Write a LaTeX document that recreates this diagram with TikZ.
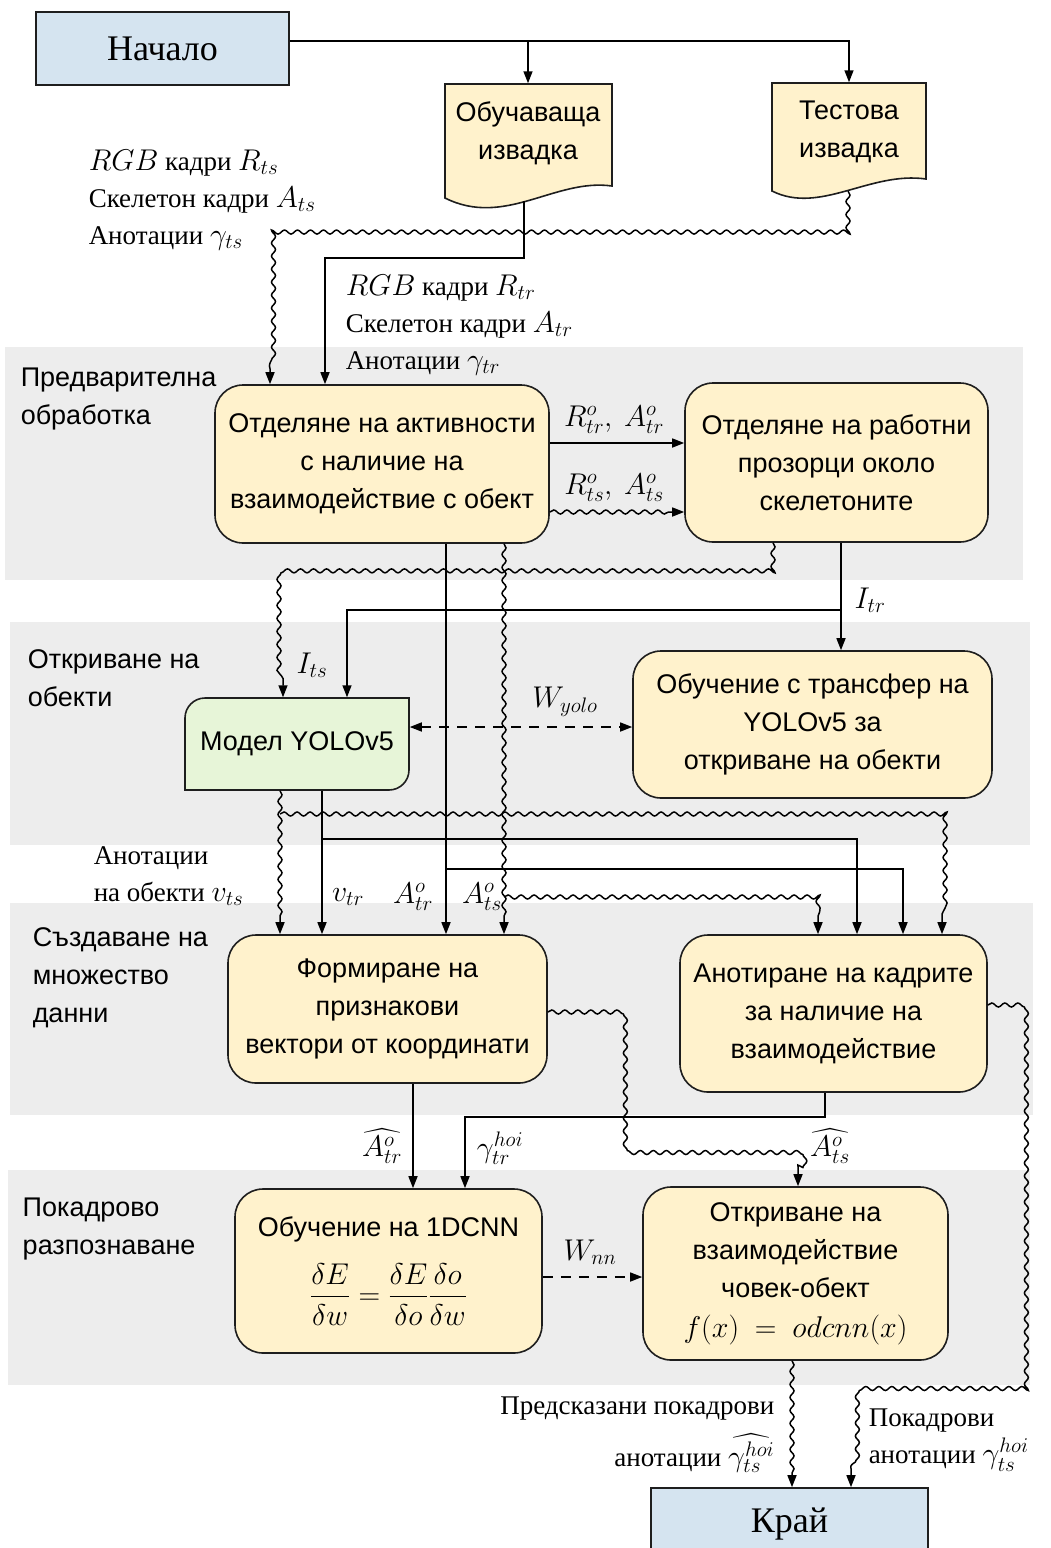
\RequirePackage{fix-cm}
\documentclass[tikz,border=0pt]{standalone}
\usepackage{amsmath}
\usepackage{fontspec}
\setmainfont{Liberation Serif}
\newfontfamily\boxfont{Liberation Sans}
\DeclareMathSizes{27}{30}{21}{16}
\usepackage{tikz}
\usetikzlibrary{arrows.meta,positioning,calc,decorations.pathmorphing}

\definecolor{procfill}{RGB}{255,242,204}
\definecolor{termfill}{RGB}{213,228,240}
\definecolor{modelfill}{RGB}{231,245,216}
\definecolor{bandfill}{RGB}{237,237,237}
\definecolor{edge}{RGB}{30,30,30}

\tikzstyle{band}=[fill=bandfill,draw=none]
\tikzstyle{proc}=[draw=edge,line width=1.6pt,fill=procfill,rounded corners=28pt,align=center,inner sep=0pt,font=\boxfont\fontsize{27}{38}\selectfont]
\tikzstyle{term}=[draw=edge,line width=1.6pt,fill=termfill,font=\fontsize{36}{40}\selectfont]
\tikzstyle{docshape}=[draw=edge,line width=1.6pt,fill=procfill]
\tikzstyle{boxtext}=[align=center,inner sep=0pt,font=\boxfont\fontsize{27}{38}\selectfont]
\tikzstyle{lbl}=[inner sep=0pt,font=\fontsize{27}{37}\selectfont]
\tikzstyle{stage}=[anchor=west,align=left,inner sep=0pt,font=\boxfont\fontsize{27}{38}\selectfont]
\tikzstyle{flow}=[-{Triangle[length=12pt,width=9pt]}]
\tikzstyle{wavy}=[flow,decorate,decoration={snake,segment length=13pt,amplitude=2pt,post length=14pt}]
\tikzstyle{dashone}=[flow,dash pattern=on 10pt off 8pt]
\tikzstyle{dashboth}=[{Triangle[length=12pt,width=9pt]}-{Triangle[length=12pt,width=9pt]},dash pattern=on 10pt off 8pt]

\begin{document}
\begin{tikzpicture}[x=1pt,y=-1pt,line width=1.5pt]
    \useasboundingbox (0,0) rectangle (1051,1548);
    \fill[band] (5,347) rectangle (1023,580);
    \fill[band] (10,622) rectangle (1030,845);
    \fill[band] (10,903) rectangle (1033,1115);
    \fill[band] (8,1170) rectangle (1030,1385);

    \node[stage] (stprep) at (20,399) {Предварителна\\обработка};
    \node[stage] (stdet) at (27,678) {Откриване на\\обекти};
    \node[stage] (stdata) at (32,978) {Създаване на\\множество\\данни};
    \node[stage] (strec) at (22,1229) {Покадрово\\разпознаване};

    \node[term,minimum width=253pt,minimum height=73pt] (start) at (162.5,48.5) {Начало};

    \draw[docshape] (445,198) -- (445,84) -- (612,84) -- (612,186)
      .. controls (555,178) and (505,228) .. (445,198) -- cycle;
    \node[boxtext,minimum width=167pt,minimum height=98pt] (train) at (528,133) {Обучаваща\\извадка};
    \coordinate (trainbot) at (524,201);

    \draw[docshape] (772,191) -- (772,83) -- (926,83) -- (926,179)
      .. controls (870,171) and (820,215) .. (772,191) -- cycle;
    \node[boxtext,minimum width=154pt,minimum height=98pt] (test) at (849,132) {Тестова\\извадка};
    \coordinate (testbot) at (848,191);

    \node[lbl,anchor=west,align=left] (srcts) at (88,200)
      {$RGB$ кадри $R_{ts}$\\Скелетон кадри $A_{ts}$\\Анотации $\gamma_{ts}$};
    \node[lbl,anchor=west,align=left] (srctr) at (345,325)
      {$RGB$ кадри $R_{tr}$\\Скелетон кадри $A_{tr}$\\Анотации $\gamma_{tr}$};

    \node[proc,minimum width=334pt,minimum height=158pt] (sep) at (382,464)
      {Отделяне на активности\\с наличие на\\взаимодействие с обект};
    \node[proc,minimum width=303pt,minimum height=159pt] (win) at (836.5,462.5)
      {Отделяне на работни\\прозорци около\\скелетоните};

    \draw[line width=1.6pt,draw=edge,fill=modelfill] (185,790) -- (185,718)
      arc[start angle=180,end angle=270,radius=20] -- (409,698) -- (409,770)
      arc[start angle=0,end angle=90,radius=20] -- cycle;
    \node[boxtext,minimum width=224pt,minimum height=92pt] (yolo) at (297,744) {Модел YOLOv5};
    \node[proc,minimum width=359pt,minimum height=147pt] (transfer) at (812.5,724.5)
      {Обучение с трансфер на\\YOLOv5 за\\откриване на обекти};

    \node[proc,minimum width=319pt,minimum height=148pt] (feat) at (387.5,1009)
      {Формиране на\\признакови\\вектори от координати};
    \node[proc,minimum width=307pt,minimum height=157pt] (annot) at (833.5,1013.5)
      {Анотиране на кадрите\\за наличие на\\взаимодействие};

    \node[proc,minimum width=307pt,minimum height=164pt] (cnn) at (388.5,1271)
      {Обучение на 1DCNN\\[20pt]$\displaystyle\frac{\delta E}{\delta w}=\frac{\delta E}{\delta o}\frac{\delta o}{\delta w}$};
    \node[proc,minimum width=305pt,minimum height=173pt] (detect) at (795.5,1273.5)
      {Откриване на\\взаимодействие\\човек-обект\\[2pt]$f(x)\ =\ odcnn(x)$};

    \node[term,minimum width=277pt,minimum height=72pt] (finish) at (789.5,1524) {Край};

    \coordinate (tap) at ($(start.north east)!0.4!(start.south east)$);
    \coordinate (xts) at (270,0);
    \coordinate (xtr) at (325,0);
    \coordinate (ytr) at (0,443);
    \coordinate (yts) at (0,512);
    \coordinate (xwv) at (773,0);
    \coordinate (xit) at (841,0);
    \coordinate (yits) at (0,572);
    \coordinate (yitr) at (0,610);
    \coordinate (xyts) at (283,0);
    \coordinate (xytr) at (347,0);
    \coordinate (ywy) at (0,727);
    \coordinate (xAtr) at (446,0);
    \coordinate (xAts) at (504,0);
    \coordinate (xvts) at (280,0);
    \coordinate (xvtr) at (322,0);
    \coordinate (yvts) at (0,814);
    \coordinate (yvtr) at (0,839);
    \coordinate (yAtr) at (0,869);
    \coordinate (yAts) at (0,897);
    \coordinate (xan1) at (818,0);
    \coordinate (xan2) at (857,0);
    \coordinate (xan3) at (903,0);
    \coordinate (xan4) at (942,0);
    \coordinate (xfe) at (413,0);
    \coordinate (xan) at (825,0);
    \coordinate (ygt) at (0,1117);
    \coordinate (xgt) at (465,0);
    \coordinate (yfw) at (0,1012);
    \coordinate (xfw) at (622,0);
    \coordinate (yhat) at (0,1145);
    \coordinate (xdn) at (798,0);
    \coordinate (ynn) at (0,1277);
    \coordinate (xpr) at (792,0);
    \coordinate (yaw) at (0,1005);
    \coordinate (xrw) at (1020,0);
    \coordinate (ybw) at (0,1387);
    \coordinate (xfn) at (851,0);

    \draw[flow] (tap) -| (test.north);
    \draw[flow] (tap -| train.north) -- (train.north);
    \draw[wavy] (testbot) -- ++(0,40) -| (sep.north -| xts);
    \draw[flow] (trainbot) -- ++(0,57) -| (sep.north -| xtr);

    \draw[flow] (sep.east |- ytr) -- (win.west |- ytr);
    \draw[wavy] (sep.east |- yts) -- (win.west |- yts);
    \draw[wavy] (win.south -| xwv) |- (xyts |- yits) -- (yolo.north -| xyts);
    \draw[flow] (win.south -| xit) -- (transfer.north -| xit);
    \draw[flow] (xit |- yitr) -| (yolo.north -| xytr);
    \draw[dashboth] (yolo.east |- ywy) -- (transfer.west |- ywy);

    \draw[flow] (sep.south -| xAtr) -- (feat.north -| xAtr);
    \draw[flow] (xAtr |- yAtr) -| (annot.north -| xan3);
    \draw[wavy] (sep.south -| xAts) -- (feat.north -| xAts);
    \draw[wavy] (xAts |- yAts) -| (annot.north -| xan1);
    \draw[wavy] (yolo.south -| xvts) -- (feat.north -| xvts);
    \draw[wavy] (xvts |- yvts) -| (annot.north -| xan4);
    \draw[flow] (yolo.south -| xvtr) -- (feat.north -| xvtr);
    \draw[flow] (xvtr |- yvtr) -| (annot.north -| xan2);

    \draw[flow] (feat.south -| xfe) -- (cnn.north -| xfe);
    \draw[flow] (annot.south -| xan) |- (xgt |- ygt) -- (cnn.north -| xgt);
    \draw[wavy] (feat.east |- yfw) -| (xfw |- yhat) -| (detect.north -| xdn);
    \draw[dashone] (cnn.east |- ynn) -- (detect.west |- ynn);
    \draw[wavy] (detect.south -| xpr) -- (finish.north -| xpr);
    \draw[wavy] (annot.east |- yaw) -| (xrw |- ybw) -| (finish.north -| xfn);

    \node[lbl] (lblRtr) at (614,420) {$R^o_{tr},\ A^o_{tr}$};
    \node[lbl] (lblRts) at (614,488) {$R^o_{ts},\ A^o_{ts}$};
    \node[lbl] (lblIts) at (312,665) {$I_{ts}$};
    \node[lbl] (lblItr) at (870,600) {$I_{tr}$};
    \node[lbl] (lblWyolo) at (565,702) {$W_{yolo}$};
    \node[lbl,anchor=west,align=left] (lblvts) at (93,876) {Анотации\\на обекти $v_{ts}$};
    \node[lbl] (lblvtr) at (348,897) {$v_{tr}$};
    \node[lbl] (lblAotr) at (413,897) {$A^o_{tr}$};
    \node[lbl] (lblAots) at (482,897) {$A^o_{ts}$};
    \node[lbl] (lblhtr) at (382,1146) {$\widehat{A^o_{tr}}$};
    \node[lbl] (lblgtr) at (500,1148) {$\gamma^{hoi}_{tr}$};
    \node[lbl] (lblhts) at (830,1146) {$\widehat{A^o_{ts}}$};
    \node[lbl] (lblWnn) at (590,1252) {$W_{nn}$};
    \node[lbl,anchor=east,align=right] (lblpred) at (775,1435)
      {Предсказани покадрови\\[12pt]анотации $\widehat{\gamma^{hoi}_{ts}}$};
    \node[lbl,anchor=west,align=left] (lbltrue) at (868,1440)
      {Покадрови\\анотации $\gamma^{hoi}_{ts}$};
\end{tikzpicture}
\end{document}
